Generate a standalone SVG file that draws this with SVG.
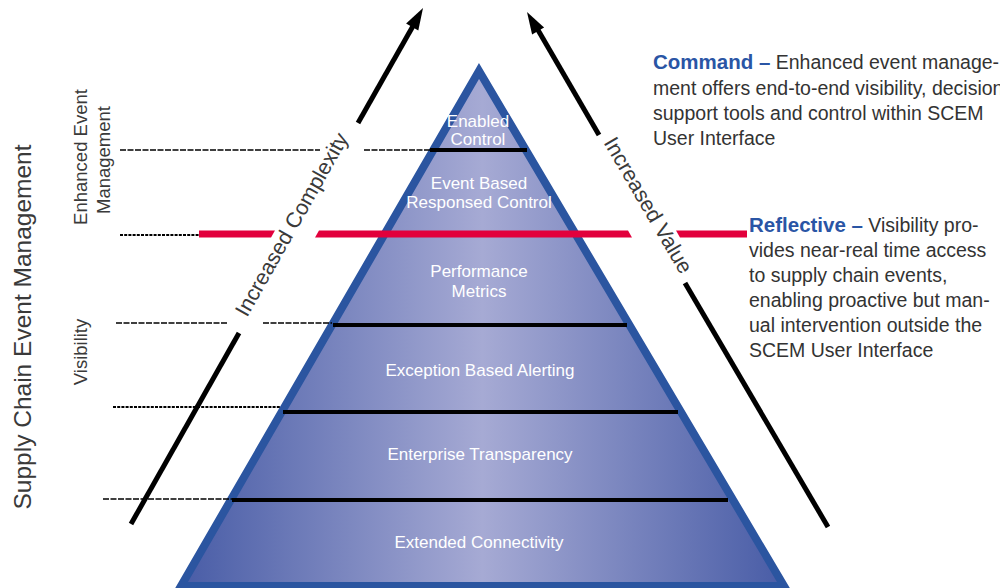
<svg xmlns="http://www.w3.org/2000/svg" width="1000" height="588" viewBox="0 0 1000 588">
<style>
.lbl{font-family:"Liberation Sans",Arial,sans-serif;font-size:17px;fill:#ffffff;text-anchor:middle}
.side{font-family:"Liberation Sans",Arial,sans-serif;fill:#3a3a3a}
.body{font-family:"Liberation Sans",Arial,sans-serif;font-size:19.5px;fill:#333333}
.head{font-weight:bold;fill:#2a55a5;font-size:20.5px}
.solid{stroke:#000;stroke-width:4;fill:none}
.dash{stroke:#000;stroke-width:1.6;stroke-dasharray:6 1.5;fill:none}
.dot{stroke:#000;stroke-width:2;stroke-dasharray:3 1.2;fill:none}
.shaft{stroke:#000;stroke-width:5;fill:none}
.red{fill:#e2003c}
</style>
<defs>
<linearGradient id="pg" x1="180" y1="0" x2="785" y2="0" gradientUnits="userSpaceOnUse">
<stop offset="0" stop-color="#485ca6"/>
<stop offset="0.5" stop-color="#a6aad4"/>
<stop offset="1" stop-color="#485ca6"/>
</linearGradient>
</defs>
<rect width="1000" height="588" fill="#ffffff"/>

<g id="pyramid">
<polygon points="479,71 181,586 784,586" fill="url(#pg)" stroke="#2b55a0" stroke-width="8" stroke-linejoin="miter"/>
</g>

<g id="connectors">
<line class="solid" x1="430" y1="150" x2="527" y2="150"/>
<line class="solid" x1="333" y1="325" x2="627" y2="325"/>
<line class="solid" x1="283" y1="412" x2="678" y2="412"/>
<line class="solid" x1="232" y1="500" x2="728" y2="500"/>
<line class="dash" x1="120" y1="150" x2="320" y2="150"/>
<line class="dash" x1="364" y1="150" x2="430" y2="150"/>
<line class="dot" x1="120" y1="235" x2="199" y2="235"/>
<line class="dash" x1="116" y1="323" x2="227" y2="323"/>
<line class="dash" x1="263" y1="323" x2="332" y2="323"/>
<line class="dot" x1="113" y1="407" x2="281" y2="407"/>
<line class="dash" x1="103" y1="499" x2="233" y2="499"/>
<polygon class="red" points="199,230.5 275,230.5 271,237.5 199,237.5"/>
<polygon class="red" points="319,230.5 628,230.5 632,237.5 315,237.5"/>
<polygon class="red" points="676,230.5 747,230.5 747,237.5 680,237.5"/>
<line class="shaft" x1="131" y1="524" x2="239" y2="333"/>
<line class="shaft" x1="358" y1="123" x2="413" y2="26"/>
<polygon points="423,8 418.3,30.6 406.1,23.6" fill="#000"/>
<line class="shaft" x1="828" y1="527" x2="685" y2="283"/>
<line class="shaft" x1="599" y1="135" x2="538" y2="30"/>
<polygon points="527,12 544.1,27.5 532.1,34.5" fill="#000"/>
</g>

<g id="arrow-labels">
<text class="side" font-size="21.5" text-anchor="middle" x="298" y="228" transform="rotate(-60.5 298 228)">Increased Complexity</text>
<text class="side" font-size="21.5" text-anchor="middle" x="642" y="209" transform="rotate(59.7 642 209)">Increased Value</text>
</g>

<g id="tier-enabled-control">
<text class="lbl" x="478" y="127">Enabled</text>
<text class="lbl" x="478" y="145">Control</text>
</g>
<g id="tier-event-based">
<text class="lbl" x="479" y="189">Event Based</text>
<text class="lbl" x="479" y="208">Responsed Control</text>
</g>
<g id="tier-performance">
<text class="lbl" x="479" y="277">Performance</text>
<text class="lbl" x="479" y="297">Metrics</text>
</g>
<g id="tier-exception">
<text class="lbl" x="480" y="376">Exception Based Alerting</text>
</g>
<g id="tier-enterprise">
<text class="lbl" x="480" y="460">Enterprise Transparency</text>
</g>
<g id="tier-extended">
<text class="lbl" x="479" y="548">Extended Connectivity</text>
</g>

<g id="left-labels">
<text class="side" font-size="24.5" text-anchor="middle" transform="translate(31 327) rotate(-90)">Supply Chain Event Management</text>
<text class="side" font-size="18.5" text-anchor="middle" transform="translate(87 157) rotate(-90)">Enhanced Event</text>
<text class="side" font-size="18.5" text-anchor="middle" transform="translate(110 160) rotate(-90)">Management</text>
<text class="side" font-size="18.5" text-anchor="middle" transform="translate(87 352) rotate(-90)">Visibility</text>
</g>

<g id="command-note">
<text class="body" x="653" y="69"><tspan class="head">Command –</tspan> Enhanced event manage-</text>
<text class="body" x="653" y="94.5">ment offers end-to-end visibility, decision</text>
<text class="body" x="653" y="120">support tools and control within SCEM</text>
<text class="body" x="653" y="145">User Interface</text>
</g>

<g id="reflective-note">
<text class="body" x="749" y="232"><tspan class="head">Reflective –</tspan> Visibility pro-</text>
<text class="body" x="749" y="257">vides near-real time access</text>
<text class="body" x="749" y="282">to supply chain events,</text>
<text class="body" x="749" y="307">enabling proactive but man-</text>
<text class="body" x="749" y="332">ual intervention outside the</text>
<text class="body" x="749" y="357">SCEM User Interface</text>
</g>
</svg>
